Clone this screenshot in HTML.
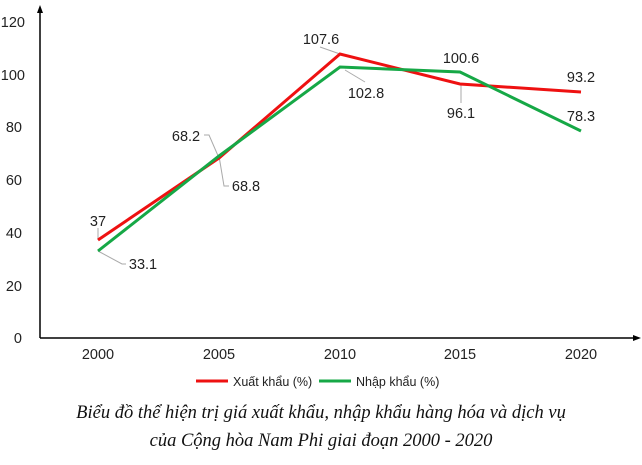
<!DOCTYPE html>
<html><head><meta charset="utf-8"><style>
body{margin:0;background:#fff;width:642px;height:465px;overflow:hidden}
svg text{font-family:"Liberation Sans",sans-serif;font-size:14.5px;fill:#222}
.cap{position:absolute;left:0;width:642px;text-align:center;font-family:"Liberation Serif",serif;font-style:italic;font-size:18.5px;color:#111}
</style></head><body>
<svg width="642" height="465" style="position:absolute;left:0;top:0">
<g stroke="#000" stroke-width="1.5" fill="none">
<line x1="40" y1="338" x2="40" y2="10"/><line x1="40" y1="338" x2="636" y2="338"/>
</g>
<polygon points="40,5 37,13 43,13" fill="#000"/>
<polygon points="641,338 633,335 633,341" fill="#000"/>
<g text-anchor="end">
<text x="22" y="343">0</text><text x="22" y="291">20</text><text x="22" y="238">40</text><text x="22" y="185">60</text><text x="22" y="132">80</text><text x="25" y="80">100</text><text x="25" y="27">120</text>
</g>
<g text-anchor="middle">
<text x="98" y="359">2000</text><text x="219" y="359">2005</text><text x="340" y="359">2010</text><text x="460" y="359">2015</text><text x="581" y="359">2020</text>
</g>
<g stroke="#aaa" stroke-width="1" fill="none">
<polyline points="98,240 98,228"/>
<polyline points="98,251 122,264 126,264"/>
<polyline points="204,135 209,135 219,158"/>
<polyline points="219,156 224,186 229,186"/>
<polyline points="320,47 340,54"/>
<polyline points="345,70 365,82"/>
<polyline points="461,85 461,103"/>
</g>
<polyline points="98,240 219,158 340,54 460,84 581,92" fill="none" stroke="#ee1111" stroke-width="3"/>
<polyline points="98,251 219,156 340,67 460,72 581,131" fill="none" stroke="#16a846" stroke-width="3"/>
<g text-anchor="middle">
<text x="98" y="226">37</text>
<text x="143" y="269">33.1</text>
<text x="186" y="141">68.2</text>
<text x="246" y="191">68.8</text>
<text x="321" y="44">107.6</text>
<text x="366" y="98">102.8</text>
<text x="461" y="63">100.6</text>
<text x="461" y="118">96.1</text>
<text x="581" y="82">93.2</text>
<text x="581" y="121">78.3</text>
</g>
<line x1="196" y1="381" x2="228" y2="381" stroke="#ee1111" stroke-width="3"/>
<text x="233" y="386" style="font-size:12.5px">Xuất khẩu (%)</text>
<line x1="319" y1="381" x2="351" y2="381" stroke="#16a846" stroke-width="3"/>
<text x="356" y="386" style="font-size:12.5px">Nhập khẩu (%)</text>
</svg>
<div class="cap" style="top:403px">Biểu đồ thể hiện trị giá xuất khẩu, nhập khẩu hàng hóa và dịch vụ</div>
<div class="cap" style="top:431px">của Cộng hòa Nam Phi giai đoạn 2000 - 2020</div>
</body></html>
